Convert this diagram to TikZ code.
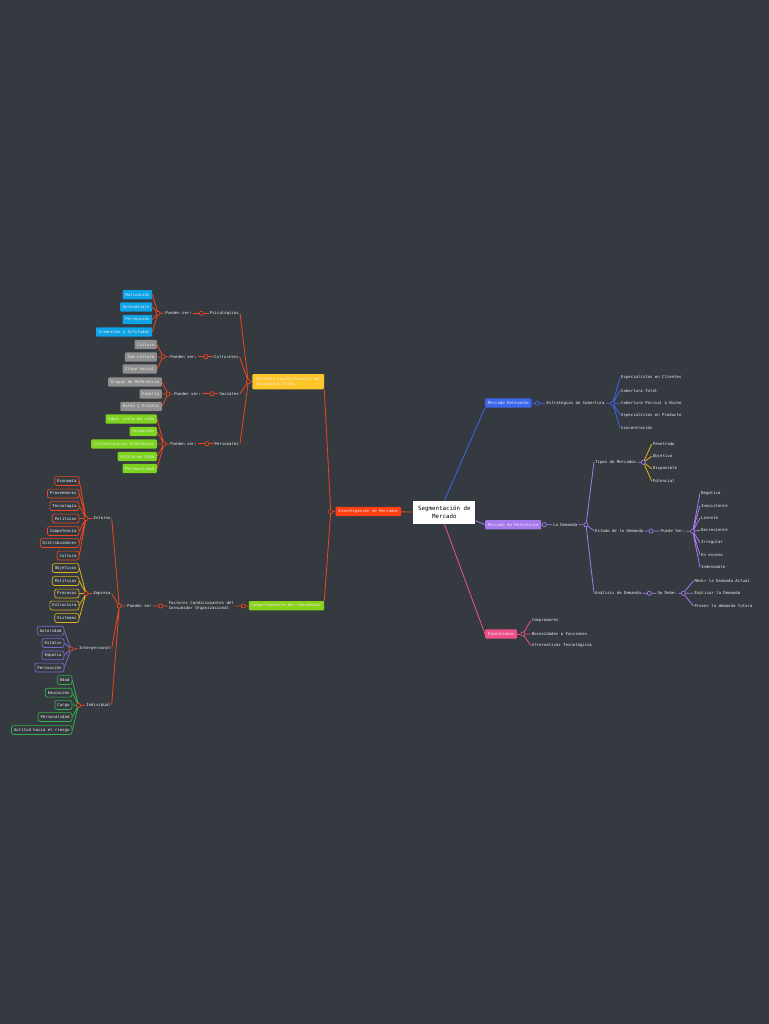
\documentclass[tikz,border=0pt]{standalone}
\usepackage{fontspec}
\setmonofont{DejaVu Sans Mono}
\usepackage{tikz}
\usetikzlibrary{positioning}

\definecolor{bg}{HTML}{343A40}
\definecolor{cRed}{HTML}{F2461F}
\definecolor{cInv}{HTML}{FF3F12}
\definecolor{cYel}{HTML}{FFC62A}
\definecolor{cLime}{HTML}{8AD11B}
\definecolor{cSky}{HTML}{0EA2E6}
\definecolor{cGry}{HTML}{8F8F8F}
\definecolor{cGrn}{HTML}{7ED321}
\definecolor{cOYel}{HTML}{E2B21C}
\definecolor{cOPur}{HTML}{7B6BD0}
\definecolor{cOGrn}{HTML}{33B24A}
\definecolor{cBlu}{HTML}{3D67EA}
\definecolor{cPur}{HTML}{A77BEF}
\definecolor{cPink}{HTML}{F0508A}

\begin{document}
\begin{tikzpicture}[x=1pt, y=-1pt,
        txt/.style={font=\fontsize{4}{5}\selectfont\ttfamily, text=white!92!black, inner sep=1pt},
        box/.style={txt, fill=#1, rounded corners=1pt, inner xsep=2.7pt, inner ysep=0pt, minimum height=9.3pt},
        obox/.style={txt, draw=#1, fill=bg, line width=0.7pt, rounded corners=2pt, inner xsep=2.5pt, inner ysep=0pt, minimum height=8.8pt},
        jn/.style={circle, draw=#1, fill=bg, line width=0.7pt, inner sep=0pt, minimum size=4.2pt},
        br/.style={draw=#1, line width=0.8pt}
    ]
        \useasboundingbox (0,0) rectangle (768,1024);
        \fill[bg] (-2,-2) rectangle (770,1026);

        % Centro
        \node[fill=white, text=black, font=\fontsize{5.8}{7.4}\selectfont\ttfamily, align=center, minimum width=62pt, minimum height=22.7pt, inner sep=2pt] (seg) at (444.3,512.3) {Segmentación de\\Mercado};
        \node[box=cInv, anchor=east] (inv) at (401.3,511.5) {Investigación de Mercados};
        \node[jn=cRed] (jInv) at (330.7,511.7) {};
        \draw[br=cRed] (seg) -- (inv) -- (jInv);

        % Consumidor final
        \node[box=cYel, anchor=east, align=left, minimum height=15.3pt, inner xsep=3.3pt] (fcf) at (324.3,381.7) {Factores Condicionantes del\\Consumidor Final};
        \node[jn=cRed] (jF) at (248.3,381.7) {};
        \draw[br=cRed] (jInv) -- (fcf.south east);
        \draw[br=cRed] (fcf) -- (jF);

        \node[txt, anchor=east] (psi) at (240,313.3) {Psicológicas};
        \node[jn=cRed] (jPsi) at (201.3,313.3) {};
        \node[txt, anchor=east] (psiP) at (193,313.3) {Pueden ser:};
        \node[jn=cRed] (jPsiP) at (158,313.3) {};
        \node[box=cSky, anchor=east] (mot) at (152.3,294.7) {Motivación};
        \node[box=cSky, anchor=east] (apr) at (152.3,307) {Aprendizaje};
        \node[box=cSky, anchor=east] (prc) at (152.3,319.5) {Percepción};
        \node[box=cSky, anchor=east] (cya) at (152.3,332) {Creencias y Actitudes};

        \node[txt, anchor=east] (cul) at (239.5,356.7) {Culturales};
        \node[jn=cRed] (jCul) at (206,356.7) {};
        \node[txt, anchor=east] (culP) at (198,356.7) {Pueden ser:};
        \node[jn=cRed] (jCulP) at (163,356.7) {};
        \node[box=cGry, anchor=east] (ctr) at (157,344.5) {Cultura};
        \node[box=cGry, anchor=east] (sub) at (157,357) {Sub cultura};
        \node[box=cGry, anchor=east] (cls) at (157,369) {Clase Social};

        \node[txt, anchor=east] (soc) at (240,393.7) {Sociales};
        \node[jn=cRed] (jSoc) at (212,393.7) {};
        \node[txt, anchor=east] (socP) at (202,393.7) {Pueden ser:};
        \node[jn=cRed] (jSocP) at (168,394) {};
        \node[box=cGry, anchor=east] (grp) at (162,382) {Grupos de Referencia};
        \node[box=cGry, anchor=east] (fam) at (162,394) {Familia};
        \node[box=cGry, anchor=east] (rol) at (162,406.5) {Roles y Estatus};

        \node[txt, anchor=east] (per) at (240,443.7) {Personales};
        \node[jn=cRed] (jPer) at (207,443.7) {};
        \node[txt, anchor=east] (perP) at (198,443.7) {Pueden ser:};
        \node[jn=cRed] (jPerP) at (164,444) {};
        \node[box=cGrn, anchor=east] (eda) at (157,419) {Edad, ciclo de vida};
        \node[box=cGrn, anchor=east] (ocu) at (157,431.5) {Ocupación};
        \node[box=cGrn, anchor=east] (cir) at (157,444) {Circunstancias Económicas};
        \node[box=cGrn, anchor=east] (esv) at (157,456.5) {Estilo de Vida};
        \node[box=cGrn, anchor=east] (psn) at (157,468.5) {Personalidad};

        \draw[br=cRed] (jF) -- (psi.east) (jF) -- (cul.east) (jF) -- (soc.east) (jF) -- (per.east);
        \draw[br=cRed] (psi) -- (jPsi) -- (psiP) (cul) -- (jCul) -- (culP) (soc) -- (jSoc) -- (socP) (per) -- (jPer) -- (perP);
        \draw[br=cRed] (psiP) -- (jPsiP) (culP) -- (jCulP) (socP) -- (jSocP) (perP) -- (jPerP);
        \draw[br=cRed] (jPsiP) -- (mot.east) (jPsiP) -- (apr.east) (jPsiP) -- (prc.east) (jPsiP) -- (cya.east);
        \draw[br=cRed] (jCulP) -- (ctr.east) (jCulP) -- (sub.east) (jCulP) -- (cls.east);
        \draw[br=cRed] (jSocP) -- (grp.east) (jSocP) -- (fam.east) (jSocP) -- (rol.east);
        \draw[br=cRed] (jPerP) -- (eda.east) (jPerP) -- (ocu.east) (jPerP) -- (cir.east) (jPerP) -- (esv.east) (jPerP) -- (psn.east);

        % Consumidor organizacional
        \node[box=cLime, anchor=east] (cco) at (324.3,605.7) {Comportamiento del Consumidor};
        \node[jn=cRed] (jC) at (243.3,606) {};
        \node[txt, anchor=east, align=left] (fco) at (235,605.5) {Factores Condicionantes del\\Consumidor Organizacional};
        \node[jn=cRed] (jFco) at (160.7,606) {};
        \node[txt, anchor=east] (fcoP) at (152.7,606) {Pueden ser};
        \node[jn=cRed] (jFcoP) at (119.3,606) {};
        \draw[br=cRed] (jInv) -- (cco.north east);
        \draw[br=cRed] (cco) -- (jC) -- (fco) (fco) -- (jFco) -- (fcoP) (fcoP) -- (jFcoP);

        \node[txt, anchor=east] (ent) at (111.7,518.3) {Entorno};
        \node[txt, anchor=east] (emp) at (111.7,593.7) {Empresa};
        \node[txt, anchor=east] (itp) at (111.7,648.3) {Interpersonal};
        \node[txt, anchor=east] (ind) at (111.7,704.7) {Individual};
        \draw[br=cRed] (jFcoP) -- (ent.east) (jFcoP) -- (emp.east) (jFcoP) -- (itp.east) (jFcoP) -- (ind.east);

        \node[jn=cRed] (jEnt) at (86,518.5) {};
        \node[obox=cRed, anchor=east] (eco) at (79.3,481) {Economía};
        \node[obox=cRed, anchor=east] (prv) at (79.3,493.5) {Proveedores};
        \node[obox=cRed, anchor=east] (tec) at (79.3,506) {Tecnología};
        \node[obox=cRed, anchor=east] (pol) at (79.3,518.5) {Políticas};
        \node[obox=cRed, anchor=east] (cmp) at (79.3,531) {Competencia};
        \node[obox=cRed, anchor=east] (dis) at (79.3,543) {Distribuidores};
        \node[obox=cRed, anchor=east] (clt) at (79.3,555.5) {Cultura};
        \draw[br=cRed] (ent) -- (jEnt);
        \draw[br=cRed] (jEnt) -- (eco.east) (jEnt) -- (prv.east) (jEnt) -- (tec.east) (jEnt) -- (pol.east) (jEnt) -- (cmp.east) (jEnt) -- (dis.east) (jEnt) -- (clt.east);

        \node[jn=cRed] (jEmp) at (86,593.5) {};
        \node[obox=cOYel, anchor=east] (obj) at (79.3,568) {Objetivos};
        \node[obox=cOYel, anchor=east] (plt) at (79.3,581) {Políticas};
        \node[obox=cOYel, anchor=east] (pro) at (79.3,593.5) {Procesos};
        \node[obox=cOYel, anchor=east] (etr) at (79.3,605.5) {Estructura};
        \node[obox=cOYel, anchor=east] (sis) at (79.3,618) {Sistemas};
        \draw[br=cRed] (emp) -- (jEmp);
        \draw[br=cOYel] (jEmp) -- (obj.east) (jEmp) -- (plt.east) (jEmp) -- (pro.east) (jEmp) -- (etr.east) (jEmp) -- (sis.east);

        \node[jn=cRed] (jItp) at (71,649) {};
        \node[obox=cOPur, anchor=east] (aut) at (64.3,630.7) {Autoridad};
        \node[obox=cOPur, anchor=east] (ets) at (64.3,643) {Estatus};
        \node[obox=cOPur, anchor=east] (emt) at (64.3,655.3) {Empatía};
        \node[obox=cOPur, anchor=east] (prs) at (64.3,667.5) {Persuasión};
        \draw[br=cRed] (itp) -- (jItp);
        \draw[br=cOPur] (jItp) -- (aut.east) (jItp) -- (ets.east) (jItp) -- (emt.east) (jItp) -- (prs.east);

        \node[jn=cRed] (jInd) at (78.5,705.3) {};
        \node[obox=cOGrn, anchor=east] (ed) at (72.3,680) {Edad};
        \node[obox=cOGrn, anchor=east] (edu) at (72.3,692.7) {Educación};
        \node[obox=cOGrn, anchor=east] (car) at (72.3,705) {Cargo};
        \node[obox=cOGrn, anchor=east] (prn) at (72.3,717) {Personalidad};
        \node[obox=cOGrn, anchor=east] (act) at (72.3,730) {Actitud hacia el riesgo};
        \draw[br=cRed] (ind) -- (jInd);
        \draw[br=cOGrn] (jInd) -- (ed.east) (jInd) -- (edu.east) (jInd) -- (car.east) (jInd) -- (prn.east) (jInd) -- (act.east);

        % Mercado relevante
        \node[box=cBlu, anchor=west] (mre) at (485,403) {Mercado Relevante};
        \node[jn=cBlu] (jMre) at (537.3,403.3) {};
        \node[txt, anchor=west] (ecb) at (545.5,403.3) {Estrategias de Cobertura};
        \node[jn=cBlu] (jEcb) at (612.7,403.3) {};
        \node[txt, anchor=west] (eec) at (620,377.7) {Especialistas en Clientes};
        \node[txt, anchor=west] (ctt) at (620,390.7) {Cobertura Total};
        \node[txt, anchor=west] (cpn) at (620,403.3) {Cobertura Parcial o Nicho};
        \node[txt, anchor=west] (eep) at (620,415) {Especialistas en Producto};
        \node[txt, anchor=west] (cnc) at (620,427.7) {Concentración};
        \draw[br=cBlu] (seg.north) -- (mre.south west);
        \draw[br=cBlu] (mre) -- (jMre) -- (ecb) (ecb) -- (jEcb);
        \draw[br=cBlu] (jEcb) -- (eec.west) (jEcb) -- (ctt.west) (jEcb) -- (cpn.west) (jEcb) -- (eep.west) (jEcb) -- (cnc.west);

        % Mercado de referencia
        \node[box=cPur, anchor=west] (mrf) at (485,524.7) {Mercado de Referencia};
        \node[jn=cPur] (jMrf) at (544.3,524.7) {};
        \node[txt, anchor=west] (dem) at (552,524.7) {La Demanda};
        \node[jn=cPur] (jDem) at (586,524.8) {};
        \draw[br=cPur] (seg.-15) -- (mrf.west);
        \draw[br=cPur] (mrf) -- (jMrf) -- (dem) (dem) -- (jDem);

        \node[txt, anchor=west] (tip) at (594,462) {Tipos de Mercados};
        \node[jn=cPur] (jTip) at (643.3,462.3) {};
        \node[txt, anchor=west] (pen) at (651.7,444) {Penetrado};
        \node[txt, anchor=west] (obv) at (651.7,456.3) {Objetivo};
        \node[txt, anchor=west] (dsp) at (651.7,468.7) {Disponible};
        \node[txt, anchor=west] (pot) at (651.7,481) {Potencial};
        \draw[br=cPur] (jDem) -- (tip.west) (tip) -- (jTip);
        \draw[br=cOYel] (jTip) -- (pen.west) (jTip) -- (obv.west) (jTip) -- (dsp.west) (jTip) -- (pot.west);

        \node[txt, anchor=west] (edd) at (594,530.7) {Estado de la Demanda};
        \node[jn=cPur] (jEdd) at (651,531) {};
        \node[txt, anchor=west] (pse) at (659.7,531) {Puede Ser:};
        \node[jn=cPur] (jPse) at (692.7,531.3) {};
        \node[txt, anchor=west] (neg) at (700,493.3) {Negativa};
        \node[txt, anchor=west] (ine) at (700,505.7) {Inexistente};
        \node[txt, anchor=west] (lat) at (700,518) {Latente};
        \node[txt, anchor=west] (dec) at (700,530.3) {Decreciente};
        \node[txt, anchor=west] (irr) at (700,542.7) {Irregular};
        \node[txt, anchor=west] (exc) at (700,555) {En exceso};
        \node[txt, anchor=west] (ind2) at (700,567.3) {Indeseable};
        \draw[br=cPur] (jDem) -- (edd.west) (edd) -- (jEdd) -- (pse) (pse) -- (jPse);
        \draw[br=cPur] (jPse) -- (neg.west) (jPse) -- (ine.west) (jPse) -- (lat.west) (jPse) -- (dec.west) (jPse) -- (irr.west) (jPse) -- (exc.west) (jPse) -- (ind2.west);

        \node[txt, anchor=west] (ana) at (594,593.3) {Análisis de Demanda};
        \node[jn=cPur] (jAna) at (649.3,593.3) {};
        \node[txt, anchor=west] (sdb) at (656.3,593.3) {Se Debe:};
        \node[jn=cPur] (jSdb) at (683.3,593.3) {};
        \node[txt, anchor=west] (med) at (693.3,581) {Medir la Demanda Actual};
        \node[txt, anchor=west] (exp) at (693.3,593.3) {Explicar la Demanda};
        \node[txt, anchor=west] (prv2) at (693.3,606) {Prever la demanda futura};
        \draw[br=cPur] (jDem) -- (ana.west) (ana) -- (jAna) -- (sdb) (sdb) -- (jSdb);
        \draw[br=cPur] (jSdb) -- (med.west) (jSdb) -- (exp.west) (jSdb) -- (prv2.west);

        % Dimensiones
        \node[box=cPink, anchor=west] (dim) at (485,634) {Dimensiones};
        \node[jn=cPink] (jDim) at (522.8,634) {};
        \node[txt, anchor=west] (cpr) at (530.7,620.7) {Compradores};
        \node[txt, anchor=west] (nof) at (530.7,634) {Necesidades o Funciones};
        \node[txt, anchor=west] (alt) at (530.7,645.5) {Alternativas Tecnológicas};
        \draw[br=cPink] (seg.south) -- (dim.west);
        \draw[br=cPink] (dim) -- (jDim);
        \draw[br=cPink] (jDim) -- (cpr.west) (jDim) -- (nof.west) (jDim) -- (alt.west);
    \end{tikzpicture}
\end{document}
